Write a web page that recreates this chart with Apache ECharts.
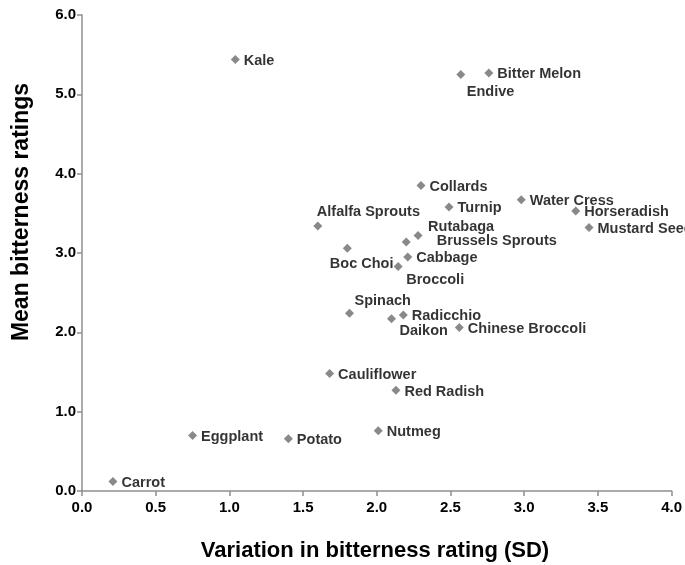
<!DOCTYPE html>
<html>
<head>
<meta charset="utf-8">
<script src="https://cdn.jsdelivr.net/npm/echarts@6/dist/echarts.min.js"></script>
<style>
html,body{margin:0;padding:0;background:#fff;}
#chart{width:685px;height:565px;}
</style>
</head>
<body>
<div id="chart"></div>
<script>
var names = ['Kale','Endive','Bitter Melon','Collards','Turnip','Water Cress','Horseradish','Mustard Seed',
  'Alfalfa Sprouts','Rutabaga','Brussels Sprouts','Boc Choi','Cabbage','Broccoli','Spinach','Radicchio',
  'Daikon','Chinese Broccoli','Cauliflower','Red Radish','Nutmeg','Potato','Eggplant','Carrot'];
var sdValues = [1.04,2.57,2.76,2.30,2.49,2.98,3.35,3.44,
  1.60,2.28,2.20,1.80,2.21,2.145,1.815,2.18,
  2.10,2.56,1.68,2.13,2.01,1.40,0.75,0.21];
var meanValues = [5.44,5.25,5.27,3.85,3.58,3.67,3.53,3.32,
  3.34,3.22,3.14,3.06,2.95,2.83,2.24,2.22,
  2.17,2.06,1.48,1.27,0.76,0.66,0.70,0.12];
var xTicks = ['0.0','0.5','1.0','1.5','2.0','2.5','3.0','3.5','4.0'];
var yTicks = ['0.0','1.0','2.0','3.0','4.0','5.0','6.0'];
var xTitle = 'Variation in bitterness rating (SD)';
var yTitle = 'Mean bitterness ratings';

// label placement tweaks (style only)
var labelOffsets = {
  'Endive': [-2.5, 17],
  'Alfalfa Sprouts': [-9.5, -14],
  'Boc Choi': [-26, 16],
  'Rutabaga': [1.5, -9],
  'Brussels Sprouts': [22, -1],
  'Broccoli': [-0.5, 14],
  'Spinach': [-3.5, -12],
  'Daikon': [-0.5, 12]
};

var FONT = '"Liberation Sans", Arial, sans-serif';
var data = names.map(function(n, i){
  return { name: n, value: [sdValues[i], meanValues[i]] };
});

var chart = echarts.init(document.getElementById('chart'), null, {renderer: 'canvas'});
chart.setOption({
  backgroundColor: '#ffffff',
  animation: false,
  grid: { left: 82, right: 13, top: 15, bottom: 74, containLabel: false },
  xAxis: {
    type: 'value', min: 0, max: 4, interval: 0.5,
    axisLine: { show: true, lineStyle: { color: '#8f8f8f', width: 1.5 } },
    axisTick: { show: true, length: 5, lineStyle: { color: '#8f8f8f', width: 1.5 } },
    splitLine: { show: false },
    axisLabel: { margin: 9, color: '#000', fontFamily: FONT, fontWeight: 'bold', fontSize: 15,
      formatter: function(v){ var i = Math.round(v / 0.5); return xTicks[i] || ''; } }
  },
  yAxis: {
    type: 'value', min: 0, max: 6, interval: 1,
    axisLine: { show: true, lineStyle: { color: '#8f8f8f', width: 1.5 } },
    axisTick: { show: true, length: 5, lineStyle: { color: '#8f8f8f', width: 1.5 } },
    splitLine: { show: false },
    axisLabel: { margin: 6, color: '#000', fontFamily: FONT, fontWeight: 'bold', fontSize: 15,
      formatter: function(v){ return yTicks[Math.round(v)] || ''; } }
  },
  graphic: [
    { type: 'text', x: 375, y: 551,
      style: { text: xTitle, textAlign: 'center', textVerticalAlign: 'middle', font: 'bold 22px ' + FONT, fill: '#000' } },
    { type: 'text', x: 22, y: 212, rotation: Math.PI / 2,
      style: { text: yTitle, textAlign: 'center', textVerticalAlign: 'middle', font: 'bold 23px ' + FONT, fill: '#000' } }
  ],
  series: [{
    type: 'scatter',
    symbol: 'diamond',
    symbolSize: 9,
    itemStyle: { color: '#6b6b6b' },
    data: data,
    label: {
      show: true, position: 'right', distance: 4,
      formatter: '{b}', color: '#000', fontFamily: FONT, fontWeight: 'bold', fontSize: 14.5
    },
    labelLayout: function(params){
      var o = labelOffsets[names[params.dataIndex]];
      return o ? { dx: o[0], dy: o[1], hideOverlap: false } : { dx: 0, dy: 1.5, hideOverlap: false };
    }
  }]
});
</script>
</body>
</html>
